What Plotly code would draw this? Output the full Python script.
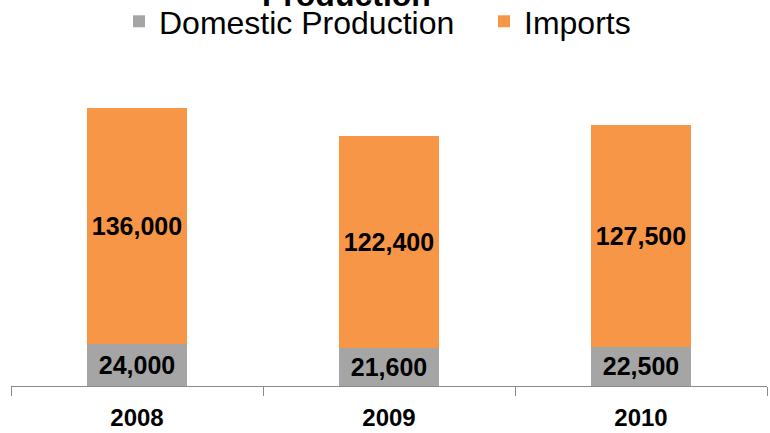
import plotly.graph_objects as go

years = ["2008", "2009", "2010"]
domestic = [24000, 21600, 22500]
imports = [136000, 122400, 127500]

FONT = "Liberation Sans, Arial"
label_font = dict(family=FONT, size=25, color="black")

fig = go.Figure()
fig.add_trace(go.Bar(
    x=years, y=domestic, name="Domestic Production",
    marker=dict(color="#A5A5A5", line=dict(width=0)),
    texttemplate="<b>%{y:,}</b>", textposition="inside", insidetextanchor="middle",
    textfont=label_font, textangle=0, constraintext="none",
))
fig.add_trace(go.Bar(
    x=years, y=imports, name="Imports",
    marker=dict(color="#F79646", line=dict(width=0)),
    texttemplate="<b>%{y:,}</b>", textposition="inside", insidetextanchor="middle",
    textfont=label_font, textangle=0, constraintext="none",
))

T, B = 73, 47
PH = 433 - T - B

fig.update_layout(
    barmode="stack",
    bargap=0.6,
    width=770, height=433,
    margin=dict(l=11, r=3, t=T, b=B, autoexpand=False),
    plot_bgcolor="white", paper_bgcolor="white",
    font=dict(family=FONT, color="black"),
    legend=dict(orientation="h", xref="container", yref="container",
                x=119 / 770, xanchor="left", y=1 - 21.5 / 433, yanchor="middle",
                entrywidth=320,
                font=dict(size=32, family=FONT), bgcolor="rgba(0,0,0,0)",
                traceorder="normal"),
    annotations=[dict(text="<b>Production</b>", xref="paper", yref="paper",
                      x=(346 - 11) / 756, y=1 + (T + 5) / PH,
                      xanchor="center", yanchor="middle",
                      showarrow=False, font=dict(size=32, color="black", family=FONT))],
)
fig.update_xaxes(
    showline=True, linecolor="#898989", linewidth=1,
    ticks="outside", tickson="boundaries", ticklen=9, tickcolor="#898989",
    tickfont=dict(size=24, family=FONT),
    tickprefix="<b>", ticksuffix="</b>",
    ticklabelstandoff=10,
)
fig.update_yaxes(visible=False, range=[0, 180000])

fig.write_html("out.html")
